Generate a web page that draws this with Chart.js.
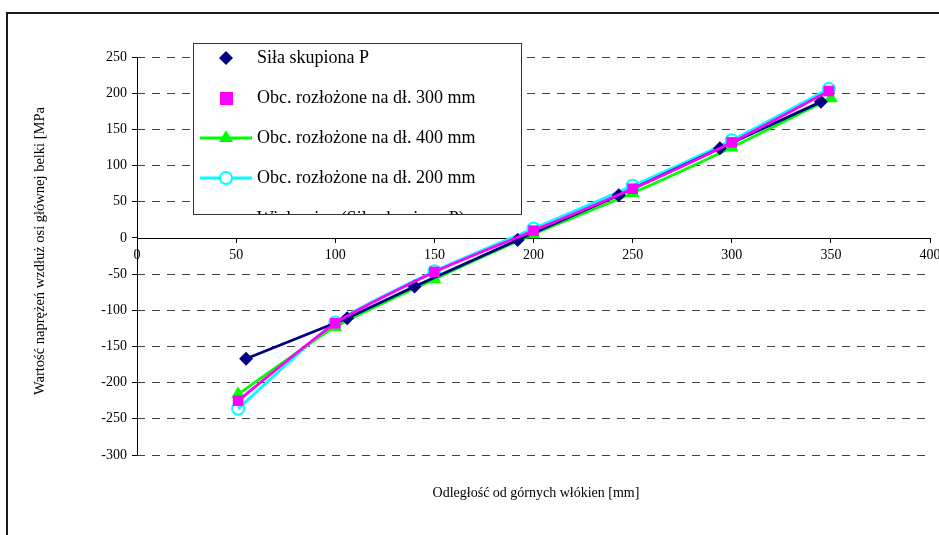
<!DOCTYPE html>
<html>
<head>
<meta charset="utf-8">
<script src="https://cdn.jsdelivr.net/npm/chart.js@4"></script>
<style>
    html, body { margin: 0; padding: 0; background: #fff; }
    #wrap { width: 939px; height: 535px; }
</style>
</head>
<body>
<div id="wrap"><canvas id="stressChart" width="939" height="535"></canvas></div>
<script>
// Series names (legend order)
const seriesNames = [
    'Siła skupiona P',
    'Obc. rozłożone na dł. 300 mm',
    'Obc. rozłożone na dł. 400 mm',
    'Obc. rozłożone na dł. 200 mm',
    'Wielomian (Siła skupiona P)'
];

// Distance from top fibres [mm] and stress [MPa]
const xPointLoad = [55, 106, 140, 192, 243, 294, 345];
const yPointLoad = [-167, -111, -67, -3, 59, 124, 188];

const xDist300 = [51, 100, 150, 200, 250, 300, 349];
const yDist300 = [-225, -118, -47, 10, 68, 132, 203];

const xDist400 = [51, 100, 150, 200, 250, 300, 350];
const yDist400 = [-216, -123, -57, 5, 62, 125, 193];

const xDist200 = [51, 100, 150, 200, 250, 300, 349];
const yDist200 = [-236, -117, -46, 13, 72, 135, 206];

// Axis ticks
const xTickValues = [0, 50, 100, 150, 200, 250, 300, 350, 400];
const yTickValues = [-300, -250, -200, -150, -100, -50, 0, 50, 100, 150, 200, 250];

const xTitle = 'Odległość od górnych włókien [mm]';
const yTitle = 'Wartość naprężeń wzdłuż osi głównej belki [MPa';

const SERIF = '"Liberation Serif", "Times New Roman", serif';

function toPoints(xs, ys) {
    return xs.map((x, i) => ({ x: x, y: ys[i] }));
}

// Outer frame, solid axis lines and axis titles
const framePlugin = {
    id: 'frame',
    beforeDatasetsDraw(chart) {
        const ctx = chart.ctx;
        const xs = chart.scales.x, ys = chart.scales.y;
        const zeroY = Math.round(ys.getPixelForValue(0)) + 0.5;
        const axisX = Math.round(xs.getPixelForValue(0)) + 0.5;
        ctx.save();
        ctx.strokeStyle = '#000';
        ctx.lineWidth = 1;
        ctx.setLineDash([]);
        ctx.beginPath();
        ctx.moveTo(axisX, chart.chartArea.top);
        ctx.lineTo(axisX, chart.chartArea.bottom);
        ctx.moveTo(axisX, zeroY);
        ctx.lineTo(chart.chartArea.right, zeroY);
        ctx.stroke();
        ctx.restore();
    },
    afterDraw(chart) {
        const ctx = chart.ctx;
        ctx.save();
        ctx.strokeStyle = '#1a1a1a';
        ctx.lineWidth = 2;
        ctx.beginPath();
        ctx.moveTo(7, 535);
        ctx.lineTo(7, 13);
        ctx.lineTo(939, 13);
        ctx.stroke();

        ctx.fillStyle = '#000';
        ctx.textAlign = 'center';
        ctx.textBaseline = 'middle';
        ctx.font = '14px ' + SERIF;
        ctx.fillText(xTitle, 536, 493);

        ctx.font = '14.5px ' + SERIF;
        ctx.translate(40, 251);
        ctx.rotate(-Math.PI / 2);
        ctx.fillText(yTitle, 0, 0);
        ctx.restore();
    }
};

// Legend box drawn the way the spreadsheet left it (last entry clipped)
const boxLegendPlugin = {
    id: 'boxLegend',
    afterDraw(chart) {
        const ctx = chart.ctx;
        const left = 193, top = 43, right = 521, bottom = 214;
        const rows = [58, 98, 138, 178, 219];
        const textX = 257, markX = 226;

        ctx.save();
        ctx.fillStyle = '#fff';
        ctx.fillRect(left, top, right - left, bottom - top);
        ctx.beginPath();
        ctx.rect(left, top, right - left, bottom - top);
        ctx.clip();

        // diamond
        ctx.fillStyle = '#000080';
        ctx.beginPath();
        ctx.moveTo(markX, rows[0] - 7);
        ctx.lineTo(markX + 7, rows[0]);
        ctx.lineTo(markX, rows[0] + 7);
        ctx.lineTo(markX - 7, rows[0]);
        ctx.closePath();
        ctx.fill();

        // square
        ctx.fillStyle = '#ff00ff';
        ctx.fillRect(markX - 6, rows[1] - 6, 13, 13);

        // green line + triangle
        ctx.strokeStyle = '#00ff00';
        ctx.lineWidth = 3;
        ctx.beginPath();
        ctx.moveTo(200, rows[2]);
        ctx.lineTo(252, rows[2]);
        ctx.stroke();
        ctx.fillStyle = '#00ff00';
        ctx.beginPath();
        ctx.moveTo(markX, rows[2] - 8);
        ctx.lineTo(markX + 7, rows[2] + 4);
        ctx.lineTo(markX - 7, rows[2] + 4);
        ctx.closePath();
        ctx.fill();

        // cyan line + hollow circle
        ctx.strokeStyle = '#00ffff';
        ctx.beginPath();
        ctx.moveTo(200, rows[3]);
        ctx.lineTo(220, rows[3]);
        ctx.moveTo(232, rows[3]);
        ctx.lineTo(252, rows[3]);
        ctx.stroke();
        ctx.lineWidth = 2;
        ctx.beginPath();
        ctx.arc(markX, rows[3], 6, 0, Math.PI * 2);
        ctx.stroke();

        ctx.fillStyle = '#000';
        ctx.font = '18px ' + SERIF;
        ctx.textAlign = 'left';
        ctx.textBaseline = 'middle';
        seriesNames.forEach((name, i) => ctx.fillText(name, textX, rows[i]));
        ctx.restore();

        ctx.save();
        ctx.strokeStyle = '#333';
        ctx.lineWidth = 1;
        ctx.strokeRect(left + 0.5, top + 0.5, right - left, bottom - top);
        ctx.restore();
    }
};

const ctx = document.getElementById('stressChart').getContext('2d');
new Chart(ctx, {
    type: 'line',
    data: {
        datasets: [{
            label: seriesNames[0],
            data: toPoints(xPointLoad, yPointLoad),
            borderColor: '#000080',
            backgroundColor: '#000080',
            borderWidth: 2.8,
            pointStyle: 'rectRot',
            pointRadius: 7,
            pointBorderWidth: 0,
            tension: 0,
            order: 1
        }, {
            label: seriesNames[1],
            data: toPoints(xDist300, yDist300),
            borderColor: '#ff00ff',
            backgroundColor: '#ff00ff',
            borderWidth: 2.8,
            pointStyle: 'rect',
            pointRadius: 7.5,
            pointBorderWidth: 0,
            tension: 0.2,
            order: 0
        }, {
            label: seriesNames[2],
            data: toPoints(xDist400, yDist400),
            borderColor: '#00ff00',
            backgroundColor: '#00ff00',
            borderWidth: 2.8,
            pointStyle: 'triangle',
            pointRadius: 8,
            pointBorderWidth: 0,
            tension: 0.2,
            order: 2
        }, {
            label: seriesNames[3],
            data: toPoints(xDist200, yDist200),
            borderColor: '#00ffff',
            backgroundColor: 'rgba(0,0,0,0)',
            borderWidth: 2.8,
            pointStyle: 'circle',
            pointRadius: 6,
            pointBorderWidth: 2,
            tension: 0.2,
            order: 3
        }]
    },
    options: {
        responsive: false,
        animation: false,
        layout: {
            padding: { left: 0, right: 9, top: 57, bottom: 80 }
        },
        scales: {
            x: {
                type: 'linear',
                position: { y: 0 },
                min: 0,
                max: 400,
                afterBuildTicks: scale => { scale.ticks = xTickValues.map(v => ({ value: v })); },
                afterFit: scale => { scale.paddingLeft = 0; scale.paddingRight = 0; },
                grid: {
                    drawOnChartArea: false,
                    tickColor: '#000',
                    tickLength: 5
                },
                border: { display: false },
                ticks: {
                    color: '#000',
                    padding: 4,
                    maxRotation: 0,
                    font: { family: SERIF, size: 14 }
                }
            },
            y: {
                type: 'linear',
                min: -300,
                max: 250,
                afterBuildTicks: scale => { scale.ticks = yTickValues.map(v => ({ value: v })); },
                afterFit: scale => { scale.width = 137; },
                grid: {
                    color: ctx => ctx.tick && ctx.tick.value === 0 ? 'rgba(0,0,0,0)' : '#404040',
                    tickColor: '#000',
                    tickBorderDash: [],
                    tickLength: 5
                },
                border: { display: false, dash: [8, 7] },
                ticks: {
                    color: '#000',
                    padding: 5,
                    font: { family: SERIF, size: 14 }
                }
            }
        },
        plugins: {
            legend: { display: false },
            tooltip: { enabled: false }
        }
    },
    plugins: [framePlugin, boxLegendPlugin]
});
</script>
</body>
</html>
